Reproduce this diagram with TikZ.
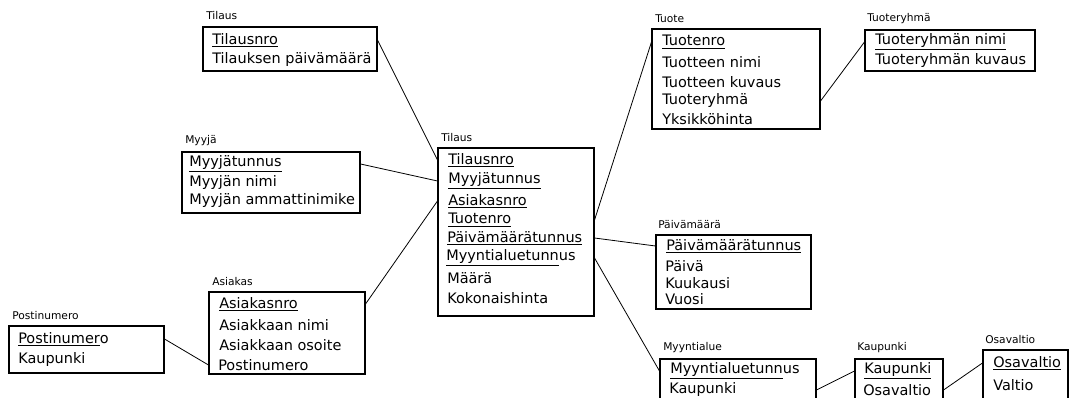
\documentclass[tikz,border=0pt]{standalone}
\usepackage{fontspec}
\setmainfont{DejaVu Sans}
\usetikzlibrary{fit}
\tikzset{
  table box/.style={draw, line width=0.8pt, inner sep=0pt},
  table title/.style={anchor=west, inner sep=0pt, font=\fontsize{8}{9}\selectfont},
  field/.style={anchor=west, inner sep=0pt, font=\fontsize{10.85}{13}\selectfont},
  link/.style={line width=0.6pt},
}

\begin{document}
\begin{tikzpicture}[x=0.75pt, y=-0.75pt]
  \useasboundingbox (0,0) rectangle (1071,398);
  \clip (0,0) rectangle (1071,398);

  % Tilaus (dimension)
  \node[table box, fit={(203,27) (377,71)}] (tilaus) {};
  \node[table title] (tilaus-t) at (206,16) {Tilaus};
  \node[field] (tilaus-1) at (212,40) {\underline{Tilausnro}};
  \node[field] (tilaus-2) at (212,60) {Tilauksen päivämäärä};

  % Myyja
  \node[table box, fit={(182,152) (360,213)}] (myyja) {};
  \node[table title] (myyja-t) at (185,141) {Myyjä};
  \node[field] (myyja-1) at (189,164) {\underline{Myyjätunnus}};
  \node[field] (myyja-2) at (189,183) {Myyjän nimi};
  \node[field] (myyja-3) at (189,201) {Myyjän ammattinimike};

  % Asiakas
  \node[table box, fit={(209,292) (365,374)}] (asiakas) {};
  \node[table title] (asiakas-t) at (212,282) {Asiakas};
  \node[field] (asiakas-1) at (219,304) {\underline{Asiakasnro}};
  \node[field] (asiakas-2) at (219,325) {Asiakkaan nimi};
  \node[field] (asiakas-3) at (219,345) {Asiakkaan osoite};
  \node[field] (asiakas-4) at (218,365) {Postinumero};

  % Postinumero
  \node[table box, fit={(9,326) (164,373)}] (postinumero) {};
  \node[table title] (postinumero-t) at (12,316) {Postinumero};
  \node[field] (postinumero-1) at (18,339) {\underline{Postinumer}o};
  \node[field] (postinumero-2) at (18,360) {Kaupunki};

  % Tilaus (fact table)
  \node[table box, fit={(438,148) (594,316)}] (fact) {};
  \node[table title] (fact-t) at (441,138) {Tilaus};
  \node[field] (fact-1) at (448,160) {\underline{Tilausnro}};
  \node[field] (fact-2) at (448,181) {\underline{Myyjätunnus}};
  \node[field] (fact-3) at (448,201) {\underline{Asiakasnro}};
  \node[field] (fact-4) at (448,220) {\underline{Tuotenro}};
  \node[field] (fact-5) at (447,238) {\underline{Päivämäärätunnus}};
  \node[field] (fact-6) at (446,258) {\underline{Myyntialuetunn}us};
  \node[field] (fact-7) at (447,278) {Määrä};
  \node[field] (fact-8) at (447,298) {Kokonaishinta};

  % Tuote
  \node[table box, fit={(652,29) (820,129)}] (tuote) {};
  \node[table title] (tuote-t) at (655,19) {Tuote};
  \node[field] (tuote-1) at (662,42) {\underline{Tuotenro}};
  \node[field] (tuote-2) at (662,62) {Tuotteen nimi};
  \node[field] (tuote-3) at (662,82) {Tuotteen kuvaus};
  \node[field] (tuote-4) at (662,101) {Tuoteryhmä};
  \node[field] (tuote-5) at (662,119) {Yksikköhinta};

  % Tuoteryhma
  \node[table box, fit={(865,30) (1035,71)}] (tuoteryhma) {};
  \node[table title] (tuoteryhma-t) at (867,19) {Tuoteryhmä};
  \node[field] (tuoteryhma-1) at (875,42) {\underline{Tuoteryhmän nimi}};
  \node[field] (tuoteryhma-2) at (875,61) {Tuoteryhmän kuvaus};

  % Paivamaara
  \node[table box, fit={(656,235) (811,309)}] (paiva) {};
  \node[table title] (paiva-t) at (658,225) {Päivämäärä};
  \node[field] (paiva-1) at (666,246) {\underline{Päivämäärätunnus}};
  \node[field] (paiva-2) at (665,266) {Päivä};
  \node[field] (paiva-3) at (665,283) {Kuukausi};
  \node[field] (paiva-4) at (665,299) {Vuosi};

  % Myyntialue
  \node[table box, fit={(660,359) (816,412)}] (myyntialue) {};
  \node[table title] (myyntialue-t) at (663,348) {Myyntialue};
  \node[field] (myyntialue-1) at (670,371) {\underline{Myyntialuetunn}us};
  \node[field] (myyntialue-2) at (669,390) {Kaupunki};

  % Kaupunki
  \node[table box, fit={(855,359) (943,412)}] (kaupunki) {};
  \node[table title] (kaupunki-t) at (857,348) {Kaupunki};
  \node[field] (kaupunki-1) at (864,371) {\underline{Kaupunki}};
  \node[field] (kaupunki-2) at (863,390) {Osavaltio};

  % Osavaltio
  \node[table box, fit={(983,350) (1068,412)}] (osavaltio) {};
  \node[table title] (osavaltio-t) at (985,340) {Osavaltio};
  \node[field] (osavaltio-1) at (993,363) {\underline{Osavaltio}};
  \node[field] (osavaltio-2) at (993,385) {Valtio};

  % Links
  \draw[link] (tilaus.east |- tilaus-1) -- (fact.west |- fact-1);
  \draw[link] (myyja.east |- myyja-1) -- (fact.west |- fact-2);
  \draw[link] (asiakas.east |- asiakas-1) -- (fact.west |- fact-3);
  \draw[link] (postinumero.east |- postinumero-1) -- (asiakas.west |- asiakas-4);
  \draw[link] (fact.east |- fact-4) -- (tuote.west |- tuote-1);
  \draw[link] (tuote.east |- tuote-4) -- (tuoteryhma.west |- tuoteryhma-1);
  \draw[link] (fact.east |- fact-5) -- (paiva.west |- paiva-1);
  \draw[link] (fact.east |- fact-6) -- (myyntialue.west |- myyntialue-1);
  \draw[link] (myyntialue.east |- myyntialue-2) -- (kaupunki.west |- kaupunki-1);
  \draw[link] (kaupunki.east |- kaupunki-2) -- (osavaltio.west |- osavaltio-1);
\end{tikzpicture}
\end{document}
